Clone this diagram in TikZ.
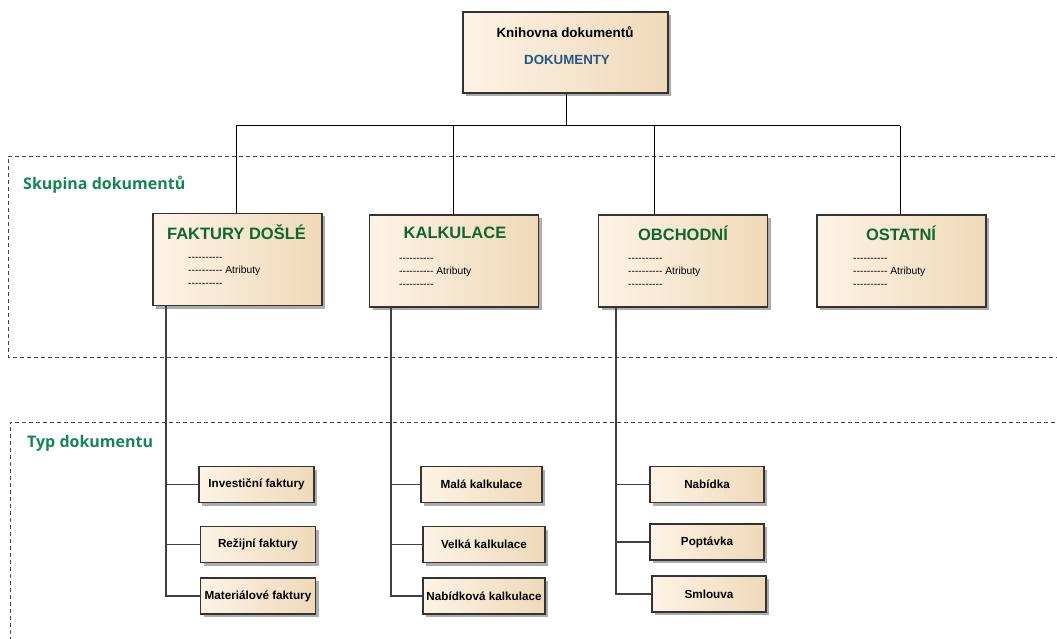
\documentclass[tikz,border=0pt]{standalone}
\usepackage{fontspec}
\setmainfont{Liberation Sans}
\newfontfamily\lblfont{Open Sans}
\newfontfamily\attrfont{Liberation Sans}[Ligatures=TeXOff]
\usetikzlibrary{shadows}

\definecolor{boxl}{RGB}{253,243,229}
\definecolor{boxr}{RGB}{239,217,185}
\definecolor{titlegreen}{RGB}{12,104,44}
\definecolor{lblgreen}{RGB}{20,134,84}
\definecolor{docblue}{RGB}{35,86,136}
\definecolor{framegray}{RGB}{70,70,70}

\begin{document}
\begin{tikzpicture}[x=1pt,y=-1pt,
  box/.style={draw=black!80, line width=1.1pt, left color=boxl, right color=boxr,
    drop shadow={shadow xshift=3pt, shadow yshift=-3pt, fill=black!40, opacity=0.8},
    inner sep=0pt},
  grpbox/.style={box, minimum width=169, minimum height=92},
  childbox/.style={box, minimum width=115, minimum height=36,
    font=\fontsize{11.7}{14}\selectfont\bfseries},
  grptitle/.style={font=\fontsize{16.5}{20}\selectfont\bfseries, text=titlegreen, inner sep=0pt},
  attrs/.style={font=\attrfont\fontsize{10.3}{12.6}\selectfont, align=left, inner sep=0pt, anchor=west},
  region/.style={draw=framegray, line width=0.9pt, dash pattern=on 4pt off 3pt},
  regionlbl/.style={font=\lblfont\fontsize{16}{19}\selectfont\bfseries, text=lblgreen, inner sep=0pt, anchor=west},
  link/.style={draw=black, line width=1pt},
  trunk/.style={draw=black!75, line width=1.3pt}
]
\useasboundingbox (0,0) rectangle (1057,639);

% dashed regions
\draw[region] (1062,156) -- (8,156) -- (8,357) -- (1062,357);
\draw[region] (1062,422) -- (10,422) -- (10,645);
\node[regionlbl] (lblSkup) at (23,185) {Skupina dokumentů};
\node[regionlbl] (lblTyp) at (27,443) {Typ dokumentu};

% root
\node[box, minimum width=205, minimum height=81] (root) at (565.5,52.5) {};
\node[font=\fontsize{13.4}{16}\selectfont\bfseries, inner sep=0pt] (rootT) at (565,32) {Knihovna dokumentů};
\node[font=\fontsize{13.3}{16}\selectfont\bfseries, text=docblue, inner sep=0pt] (rootS) at (567,60) {DOKUMENTY};

% group boxes
\node[grpbox] (fak) at (237.5,259.5) {};
\node[grpbox] (kal) at (454,261) {};
\node[grpbox] (obc) at (683,261) {};
\node[grpbox] (ost) at (901.5,261) {};

\node[grptitle] (fakT) at (236.5,232) {FAKTURY DOŠLÉ};
\node[grptitle] (kalT) at (455,233) {KALKULACE};
\node[grptitle] (obcT) at (683,233) {OBCHODNÍ};
\node[grptitle] (ostT) at (901,233) {OSTATNÍ};

\node[attrs] (fakA) at (188,272) {----------\\---------- Atributy\\----------};
\node[attrs] (kalA) at (399,273) {----------\\---------- Atributy\\----------};
\node[attrs] (obcA) at (628,273) {----------\\---------- Atributy\\----------};
\node[attrs] (ostA) at (853,273) {----------\\---------- Atributy\\----------};

% bus from root to groups
\coordinate (bus) at (566,126);
\coordinate (xf) at (236,0);
\coordinate (xk) at (453,0);
\coordinate (xo) at (654,0);
\coordinate (xs) at (900,0);
\draw[link] (root.south -| bus) -- (bus);
\draw[link] (xf |- bus) -- (xs |- bus);
\draw[link] (xf |- bus) -- (xf |- fak.north);
\draw[link] (xk |- bus) -- (xk |- kal.north);
\draw[link] (xo |- bus) -- (xo |- obc.north);
\draw[link] (xs |- bus) -- (xs |- ost.north);

% child boxes
\node[childbox] (inv) at (256.5,484.5) {Investiční faktury};
\node[childbox] (rez) at (258,544.5) {Režijní faktury};
\node[childbox] (mat) at (258,596) {Materiálové faktury};
\node[childbox, minimum width=121] (mala) at (481.5,484.5) {Malá kalkulace};
\node[childbox, minimum width=122] (velka) at (484,544.5) {Velká kalkulace};
\node[childbox, minimum width=122] (nabk) at (484,596) {Nabídková kalkulace};
\node[childbox, minimum width=114] (nab) at (707,484.5) {Nabídka};
\node[childbox, minimum width=114] (pop) at (707,542) {Poptávka};
\node[childbox, minimum width=114] (sml) at (709,594) {Smlouva};

% trunks and branches
\coordinate (tf) at (166,0);
\coordinate (tk) at (391,0);
\coordinate (to) at (616,0);
\draw[trunk] (tf |- fak.south) |- (mat.west);
\draw[trunk] (tf |- inv.west) -- (inv.west);
\draw[trunk] (tf |- rez.west) -- (rez.west);
\draw[trunk] (tk |- kal.south) |- (nabk.west);
\draw[trunk] (tk |- mala.west) -- (mala.west);
\draw[trunk] (tk |- velka.west) -- (velka.west);
\draw[trunk] (to |- obc.south) |- (sml.west);
\draw[trunk] (to |- nab.west) -- (nab.west);
\draw[trunk] (to |- pop.west) -- (pop.west);
\end{tikzpicture}
\end{document}
